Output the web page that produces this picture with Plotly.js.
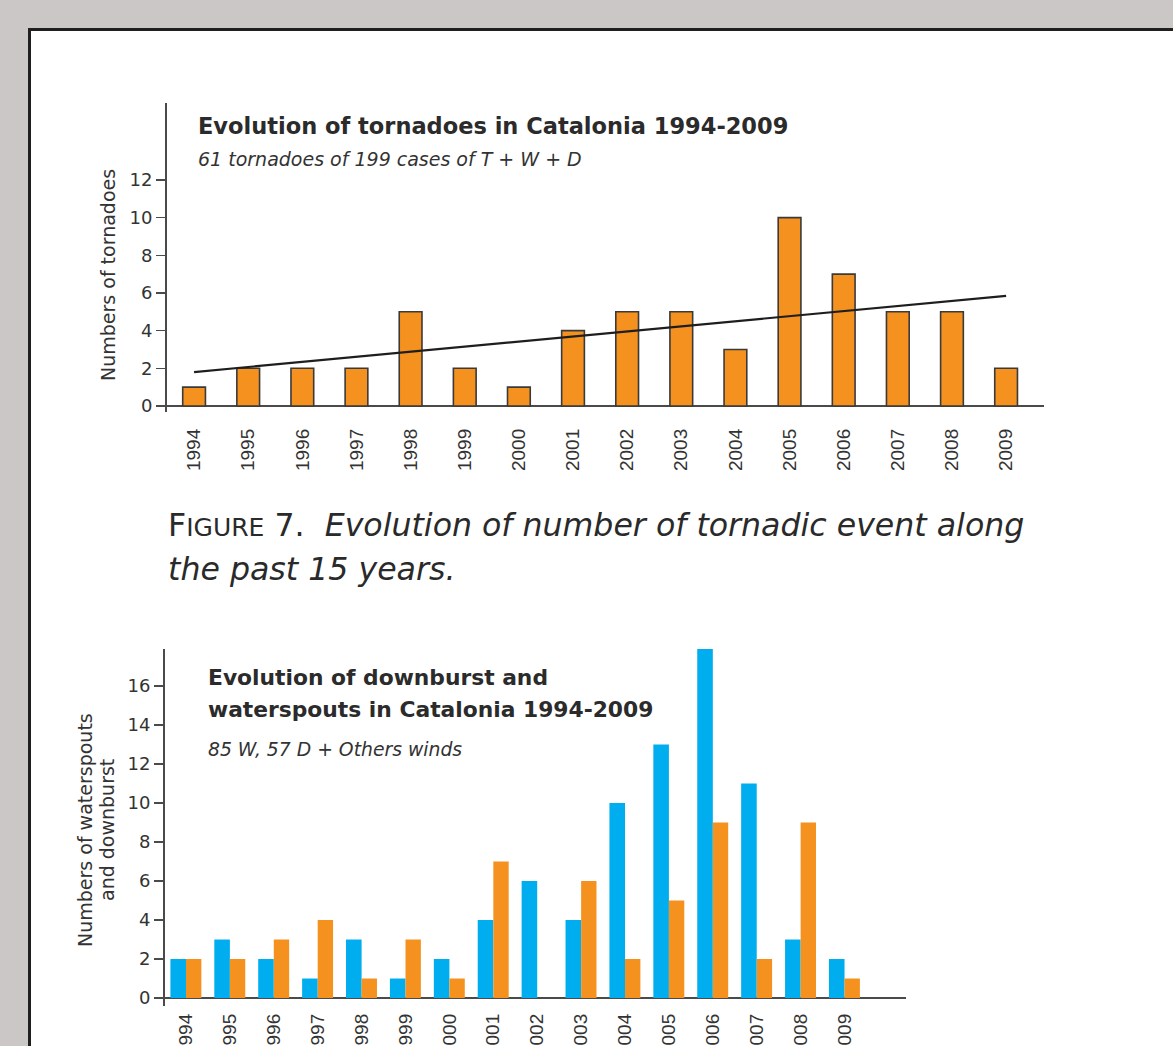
<!DOCTYPE html>
<html>
<head>
<meta charset="utf-8">
<script src="https://cdn.plot.ly/plotly-3.0.1.min.js"></script>
<style>
  html, body { margin: 0; padding: 0; background: #cbc7c6; }
  #chart { width: 1173px; height: 1046px; }
</style>
</head>
<body>
<div id="chart"></div>
<script>
// ---- Data ----
const years = ['1994','1995','1996','1997','1998','1999','2000','2001','2002','2003','2004','2005','2006','2007','2008','2009'];
const tornadoes = [1, 2, 2, 2, 5, 2, 1, 4, 5, 5, 3, 10, 7, 5, 5, 2];
const trendYears = ['1994', '2009'];
const trendValues = [1.8, 5.85];
const waterspouts = [2, 3, 2, 1, 3, 1, 2, 4, 6, 4, 10, 13, 18, 11, 3, 2];
const downbursts = [2, 2, 3, 4, 1, 3, 1, 7, 0, 6, 2, 5, 9, 2, 9, 1];
const topTicks = [0, 2, 4, 6, 8, 10, 12];
const bottomTicks = [0, 2, 4, 6, 8, 10, 12, 14, 16];

// ---- Layout helpers (pixel -> paper) ----
const W = 1173, H = 1046;
const px = x => x / W;
const py = y => 1 - y / H;

const ORANGE = '#f5911e';
const BLUE = '#00aeef';
const AXIS = '#4a4a4a';
const TXT = '#333333';
const FONT = 'DejaVu Sans, sans-serif';
const TICKFONT = 'Liberation Sans, Arial, sans-serif';

const traces = [
  {
    type: 'bar', x: years, y: tornadoes, xaxis: 'x', yaxis: 'y',
    width: 0.42,
    marker: { color: ORANGE, line: { color: '#3a3a3a', width: 1.6 } },
    hoverinfo: 'x+y', showlegend: false
  },
  {
    type: 'scatter', mode: 'lines', x: trendYears, y: trendValues, xaxis: 'x', yaxis: 'y',
    line: { color: '#1e1e1e', width: 2.2 }, showlegend: false
  },
  {
    type: 'bar', x: years, y: waterspouts, xaxis: 'x2', yaxis: 'y2',
    width: 0.355, offset: -0.355,
    marker: { color: BLUE, line: { width: 0 } }, showlegend: false
  },
  {
    type: 'bar', x: years, y: downbursts, xaxis: 'x2', yaxis: 'y2',
    width: 0.35, offset: 0,
    marker: { color: ORANGE, line: { width: 0 } }, showlegend: false
  }
];

const yCommon = {
  showgrid: false, showline: true, linecolor: AXIS, linewidth: 2,
  zeroline: true, zerolinecolor: AXIS, zerolinewidth: 2,
  ticks: 'outside', ticklen: 9, tickwidth: 1.5, tickcolor: AXIS,
  tickfont: { family: FONT, size: 18, color: TXT },
  tickmode: 'array', fixedrange: true
};
const xCommon = {
  type: 'category', showgrid: false, showline: false, zeroline: false,
  ticks: '', tickangle: -90,
  tickfont: { family: TICKFONT, size: 19, color: TXT }, fixedrange: true
};

function note(x, y, text, size, opts) {
  return Object.assign({
    xref: 'paper', yref: 'paper', x: px(x), y: py(y), xanchor: 'left', yanchor: 'middle',
    text: text, showarrow: false, borderpad: 0, borderwidth: 0,
    font: { family: FONT, size: size, color: TXT }
  }, opts || {});
}

const layout = {
  width: W, height: H,
  margin: { l: 0, r: 0, t: 0, b: 0 },
  paper_bgcolor: '#cbc7c6',
  plot_bgcolor: 'rgba(0,0,0,0)',
  barmode: 'overlay',
  showlegend: false,
  xaxis: Object.assign({}, xCommon, {
    domain: [px(167), px(1044)], range: [-0.5, 15.7], anchor: 'y', ticklabelstandoff: 12
  }),
  yaxis: Object.assign({}, yCommon, {
    domain: [py(412), py(103)], range: [-0.32, 16.09], tickvals: topTicks, anchor: 'x'
  }),
  xaxis2: Object.assign({}, xCommon, {
    domain: [px(165), px(906)], range: [-0.478, 16.4], anchor: 'y2', ticklabelstandoff: 3
  }),
  yaxis2: Object.assign({}, yCommon, {
    domain: [py(1006), py(649)], range: [-0.41, 17.9], tickvals: bottomTicks, anchor: 'x2'
  }),
  shapes: [
    {
      type: 'rect', xref: 'paper', yref: 'paper', layer: 'below',
      x0: px(29.5), x1: 1.2, y0: -0.2, y1: py(29.5),
      fillcolor: '#ffffff', line: { color: '#1f1f1f', width: 3 }
    }
  ],
  annotations: [
    // Top chart titles
    note(198, 126, '<b>Evolution of tornadoes in Catalonia 1994-2009</b>', 22.5, { font: { family: FONT, size: 22.5, color: '#2b2b2b' } }),
    note(198, 159, '<i>61 tornadoes of 199 cases of T + W + D</i>', 19),
    // Top y-axis title
    note(108, 275, 'Numbers of tornadoes', 19, { xanchor: 'center', textangle: -90 }),
    // Caption
    note(168, 525, 'F<span style="font-size:25px">IGURE</span> 7.  <i>Evolution of number of tornadic event along</i>', 31.6,
      { font: { family: FONT, size: 31.6, color: '#2a2a2a' } }),
    note(168, 569, '<i>the past 15 years.</i>', 31.6, { font: { family: FONT, size: 31.6, color: '#2a2a2a' } }),
    // Bottom chart titles
    note(208, 677, '<b>Evolution of downburst and</b>', 21.8, { font: { family: FONT, size: 21.8, color: '#2b2b2b' } }),
    note(208, 709, '<b>waterspouts in Catalonia 1994-2009</b>', 21.8, { font: { family: FONT, size: 21.8, color: '#2b2b2b' } }),
    note(208, 749, '<i>85 W, 57 D + Others winds</i>', 18.8),
    // Bottom y-axis title (two lines)
    note(85, 830, 'Numbers of waterspouts', 19, { xanchor: 'center', textangle: -90 }),
    note(107, 830, 'and downburst', 19, { xanchor: 'center', textangle: -90 })
  ]
};

Plotly.newPlot('chart', traces, layout, { displayModeBar: false, staticPlot: true });
</script>
</body>
</html>
